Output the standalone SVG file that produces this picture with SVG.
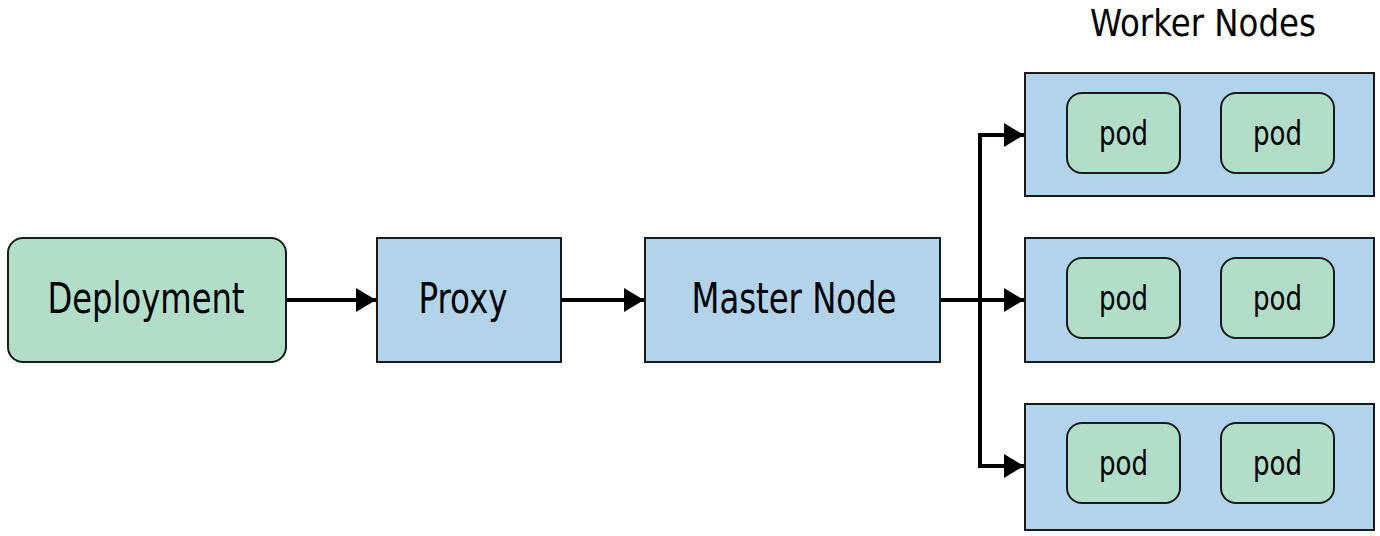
<svg xmlns="http://www.w3.org/2000/svg" width="1380" height="536" viewBox="0 0 1380 536">
<defs>
<style>
.bg{fill:#ffffff}
.green{fill:#b2dec9;stroke:#1a1a1a;stroke-width:2}
.blue{fill:#b2d3e9;stroke:#1a1a1a;stroke-width:2}
.lbl{font-family:"Liberation Sans Narrow","DejaVu Sans Condensed","Liberation Sans",sans-serif;fill:#000;text-anchor:middle}
.big{font-size:42px}
.pod{font-size:34px}
.conn{fill:none;stroke:#000;stroke-width:4}
</style>
<marker id="arr" viewBox="0 0 20 24" refX="20" refY="12" markerWidth="20" markerHeight="24" markerUnits="userSpaceOnUse" orient="auto">
<path d="M0,0 L20,12 L0,24 Z" fill="#000"/>
</marker>
</defs>
<rect class="bg" width="1380" height="536"/>
<g id="connectors">
<line class="conn" x1="286" y1="300" x2="376" y2="300" marker-end="url(#arr)"/>
<line class="conn" x1="561" y1="300" x2="644" y2="300" marker-end="url(#arr)"/>
<line class="conn" x1="940" y1="300" x2="1024" y2="300" marker-end="url(#arr)"/>
<polyline class="conn" points="980,300 980,135 1024,135" marker-end="url(#arr)"/>
<polyline class="conn" points="980,300 980,466 1024,466" marker-end="url(#arr)"/>
</g>
<g id="deployment">
<rect class="green" x="8" y="238" width="278" height="124" rx="15"/>
<text class="lbl big" x="146" y="313" textLength="197" lengthAdjust="spacingAndGlyphs">Deployment</text>
</g>
<g id="proxy">
<rect class="blue" x="377" y="238" width="184" height="124"/>
<text class="lbl big" x="463" y="313" textLength="89" lengthAdjust="spacingAndGlyphs">Proxy</text>
</g>
<g id="master">
<rect class="blue" x="645" y="238" width="295" height="124"/>
<text class="lbl big" x="794" y="313" textLength="205" lengthAdjust="spacingAndGlyphs">Master Node</text>
</g>
<g id="worker-title">
<text class="lbl" style="font-size:38px" x="1203" y="36" textLength="226" lengthAdjust="spacingAndGlyphs">Worker Nodes</text>
</g>
<g id="worker1">
<rect class="blue" x="1025" y="73" width="349" height="123"/>
<rect class="green" x="1067" y="93" width="113" height="80" rx="15"/>
<text class="lbl pod" x="1123.5" y="145" textLength="49" lengthAdjust="spacingAndGlyphs">pod</text>
<rect class="green" x="1221" y="93" width="113" height="80" rx="15"/>
<text class="lbl pod" x="1277.5" y="145" textLength="49" lengthAdjust="spacingAndGlyphs">pod</text>
</g>
<g id="worker2">
<rect class="blue" x="1025" y="238" width="349" height="124"/>
<rect class="green" x="1067" y="258" width="113" height="80" rx="15"/>
<text class="lbl pod" x="1123.5" y="310" textLength="49" lengthAdjust="spacingAndGlyphs">pod</text>
<rect class="green" x="1221" y="258" width="113" height="80" rx="15"/>
<text class="lbl pod" x="1277.5" y="310" textLength="49" lengthAdjust="spacingAndGlyphs">pod</text>
</g>
<g id="worker3">
<rect class="blue" x="1025" y="404" width="349" height="126"/>
<rect class="green" x="1067" y="423" width="113" height="80" rx="15"/>
<text class="lbl pod" x="1123.5" y="475" textLength="49" lengthAdjust="spacingAndGlyphs">pod</text>
<rect class="green" x="1221" y="423" width="113" height="80" rx="15"/>
<text class="lbl pod" x="1277.5" y="475" textLength="49" lengthAdjust="spacingAndGlyphs">pod</text>
</g>
</svg>
